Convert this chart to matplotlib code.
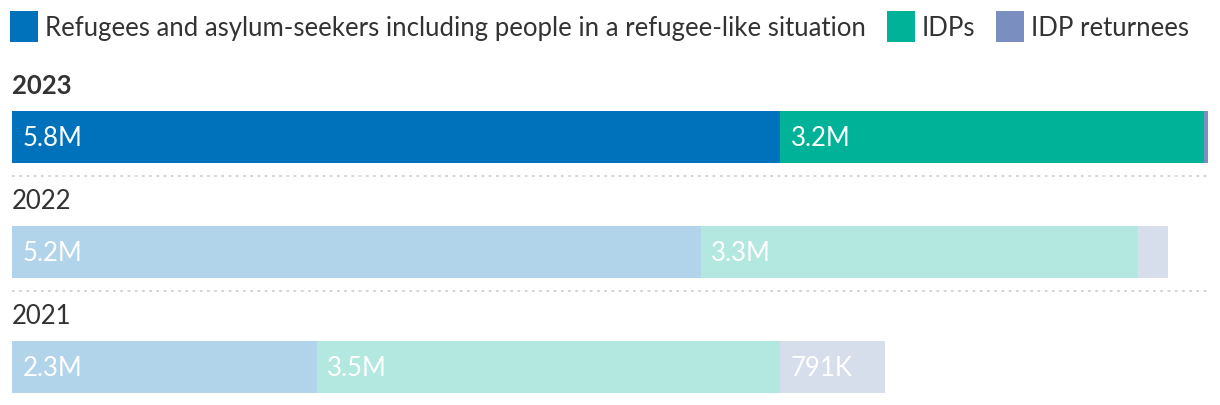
import matplotlib.pyplot as plt
from matplotlib.patches import Patch

plt.rcParams['font.family'] = ['Lato', 'DejaVu Sans']

# data (millions)
years = ['2023', '2022', '2021']
refugees = [5.8, 5.2, 2.3]
idps = [3.2, 3.3, 3.5]
returnees = [0.03, 0.23, 0.791]
labels_ref = ['5.8M', '5.2M', '2.3M']
labels_idp = ['3.2M', '3.3M', '3.5M']
labels_ret = ['', '', '791K']

series_names = ['Refugees and asylum-seekers including people in a refugee-like situation',
                'IDPs', 'IDP returnees']
colors = ['#0072BC', '#00B398', '#7A8FC0']

fs = 18.5

fig = plt.figure(figsize=(12.2, 4.06), dpi=100)
ax = fig.add_axes([12 / 1220, 0, 1196 / 1220, 1])
ax.set_xlim(0, 9.03)
ax.set_ylim(2.33, -1.2)
ax.axis('off')

h = 0.46
for i, yr in enumerate(years):
    alpha = 1.0 if i == 0 else 0.3
    left = 0
    for vals, labs, col in [(refugees, labels_ref, colors[0]),
                            (idps, labels_idp, colors[1]),
                            (returnees, labels_ret, colors[2])]:
        ax.barh(i, vals[i], left=left, height=h, color=col, alpha=alpha, linewidth=0)
        if labs[i]:
            ax.annotate(labs[i], (left, i), xytext=(7.5, 0), textcoords='offset points',
                        ha='left', va='center', color='white', fontsize=fs)
        left += vals[i]
    ax.text(0, i - 0.45, yr, ha='left', va='center', fontsize=fs, color='#333333',
            fontweight='bold' if i == 0 else 'normal')
    if i < len(years) - 1:
        ax.plot([0, 9.03], [i + 0.335, i + 0.335], color='#d0d0d0', lw=1.3,
                linestyle=(0, (1.5, 2.5)), clip_on=False)

handles = [Patch(facecolor=c, edgecolor='none') for c in colors]
fig.legend(handles, series_names, loc='upper left', bbox_to_anchor=(10 / 1220, 1 - 12 / 406),
           ncol=3, frameon=False, fontsize=fs, handlelength=1.1, handleheight=1.5,
           handletextpad=0.27, columnspacing=0.8, borderpad=0, borderaxespad=0,
           labelcolor='#333333')

fig.savefig('out.png', dpi=100)
